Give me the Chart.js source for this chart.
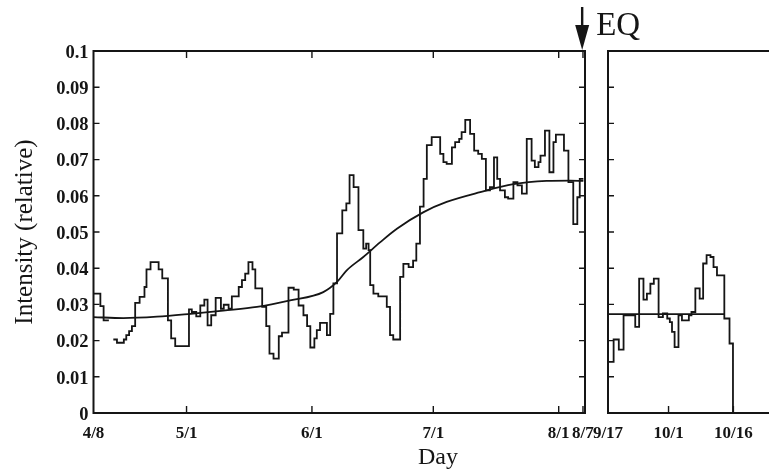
<!DOCTYPE html>
<html>
<head>
<meta charset="utf-8">
<title>Intensity (relative)</title>
<script src="https://cdn.jsdelivr.net/npm/chart.js@4.4.1/dist/chart.umd.min.js"></script>
<style>
  html, body { margin: 0; padding: 0; background: #fff; }
  #wrap { position: relative; width: 769px; height: 475px; overflow: hidden; background: #fff; }
  #wrap canvas { position: absolute; left: 0; top: 0; }
  #rightChart { pointer-events: none; }
</style>
</head>
<body>
<div id="wrap">
  <canvas id="leftChart" width="769" height="475"></canvas>
  <canvas id="rightChart" width="800" height="475"></canvas>
</div>
<script>
// days counted from 4/8 (left panel) and from 9/17 (right panel)
const leftDays = [
  0, 1.7, 2.5, 3.8, 4.2,
  4.9, 5.8, 7.5, 8.1, 8.8, 9.5, 10.3, 11.4, 12.6, 13.1, 14.1, 16.1, 17.0, 18.4, 19.2,
  20.2, 23.6, 24.3, 25.4, 26.4, 27.4, 28.2, 29.1, 30.2, 31.5, 32.2, 33.4, 34.2, 35.9,
  36.7, 37.5, 38.3, 39.3, 40.0, 41.7, 42.7, 43.5, 44.5, 45.8, 46.6, 48.2, 49.5, 50.7,
  51.9, 52.8, 53.6, 54.6, 55.2, 56.0, 57.7, 58.5, 59.3, 60.2, 61.5, 62.5, 63.3, 64.3,
  65.5, 66.7, 67.4, 68.0, 68.4, 69.2, 70.4, 72.5, 73.3, 74.1, 75.8, 76.6, 77.9, 79.0,
  79.8, 80.7, 81.6, 82.4, 83.6, 85.7, 86.5, 87.3, 88.6, 89.4, 90.4, 91.0, 91.9, 93.1,
  94.1, 95.1, 96.0, 97.0, 98.0, 99.0, 99.8, 100.5, 101.7, 102.5, 103.8, 104.8, 105.9,
  107.1, 108.3, 109.1, 110.0, 110.5, 111.6, 112.7, 113.7, 114.3, 116.3, 117.4, 118.6,
  119.6, 120.2, 121.1
];
const leftValues = [
  0.0330, 0.0295, 0.0256, 0.0256, null,
  0.0203, 0.0194, 0.0203, 0.0215, 0.0226, 0.0240, 0.0304, 0.0321, 0.0348, 0.0397, 0.0417, 0.0397, 0.0372, 0.0256, 0.0206,
  0.0185, 0.0286, 0.0279, 0.0267, 0.0297, 0.0313, 0.0242, 0.0270, 0.0318, 0.0288, 0.0299, 0.0288, 0.0322, 0.0348,
  0.0367, 0.0385, 0.0417, 0.0397, 0.0344, 0.0293, 0.0240, 0.0164, 0.0150, 0.0212, 0.0222, 0.0346, 0.0341, 0.0297,
  0.0270, 0.0240, 0.0181, 0.0206, 0.0229, 0.0249, 0.0215, 0.0274, 0.0358, 0.0496, 0.0560, 0.0579, 0.0657, 0.0624,
  0.0505, 0.0454, 0.0468, 0.0450, 0.0353, 0.0330, 0.0322, 0.0293, 0.0215, 0.0203, 0.0376, 0.0412, 0.0403, 0.0421,
  0.0468, 0.0570, 0.0647, 0.0740, 0.0762, 0.0716, 0.0693, 0.0688, 0.0734, 0.0748, 0.0757, 0.0776, 0.0810, 0.0771,
  0.0725, 0.0716, 0.0702, 0.0615, 0.0624, 0.0706, 0.0647, 0.0615, 0.0596, 0.0592, 0.0638, 0.0629, 0.0606,
  0.0757, 0.0697, 0.0679, 0.0693, 0.0711, 0.0780, 0.0665, 0.0748, 0.0769, 0.0725, 0.0638, 0.0522,
  0.0596, 0.0647, 0.0647
];
const fitDays = [0, 7.4, 15.7, 24, 32.1, 40.4, 48.6, 56.8, 60.2, 62.6, 66.7, 70.9, 75, 81.6, 87.3, 95.6, 103.8, 112, 117.8, 121.1];
const fitValues = [0.0265, 0.0262, 0.0266, 0.0274, 0.0283, 0.0293, 0.0311, 0.0334, 0.0362, 0.0394, 0.0431, 0.0472, 0.0509, 0.0555, 0.0583, 0.0610, 0.0632, 0.0641, 0.0642, 0.0641];

const rightDays = [
  0.1, 1.3, 2.5, 3.6, 6.3, 7.2, 8.2, 9.0, 9.8, 10.6, 11.7, 12.7, 13.7, 14.3, 14.8, 15.4,
  16.3, 17.1, 18.7, 19.3, 20.2, 21.2, 22.0, 22.8, 23.7, 24.4, 25.2, 26.9, 28.1, 28.9
];
const rightValues = [
  0.0141, 0.0203, 0.0175, 0.0270, 0.0238, 0.0371, 0.0313, 0.0330, 0.0357, 0.0371, 0.0265, 0.0275, 0.0261, 0.0251, 0.0224, 0.0182,
  0.0270, 0.0256, 0.0270, 0.0279, 0.0344, 0.0316, 0.0413, 0.0436, 0.0431, 0.0403, 0.0380, 0.0261, 0.0192, 0
];
const rightFitDays = [0, 26.9];
const rightFitValues = [0.0273, 0.0273];

const leftTickDays = [0, 23, 54, 84, 115, 121];
const leftTickLabels = ['4/8', '5/1', '6/1', '7/1', '8/1', '8/7'];
const rightTickDays = [0, 14, 29];
const rightTickLabels = ['9/17', '10/1', '10/16'];
const yTickValues = [0, 0.01, 0.02, 0.03, 0.04, 0.05, 0.06, 0.07, 0.08, 0.09, 0.1];
const yTickLabels = ['0', '0.01', '0.02', '0.03', '0.04', '0.05', '0.06', '0.07', '0.08', '0.09', '0.1'];
const eqDay = 120.8;

const SERIF = "'Liberation Serif', 'DejaVu Serif', serif";
const INK = '#151515';

const toPoints = (xs, ys) => xs.map((x, i) => ({ x: x, y: ys[i] }));

// box round the plot area with short inward ticks
const framePlugin = {
  id: 'frame',
  afterDatasetsDraw(chart, args, opts) {
    const { ctx, chartArea: a, scales } = chart;
    const x = scales.x, y = scales.y;
    ctx.save();
    ctx.strokeStyle = INK;
    ctx.lineWidth = 2;
    ctx.strokeRect(a.left, a.top, a.right - a.left, a.bottom - a.top);
    ctx.lineWidth = 1.4;
    ctx.beginPath();
    yTickValues.slice(1, -1).forEach(v => {
      const py = y.getPixelForValue(v);
      ctx.moveTo(a.left, py);
      ctx.lineTo(a.left + 6, py);
      if (opts.rightTicks) {
        ctx.moveTo(a.right, py);
        ctx.lineTo(a.right - 6, py);
      }
    });
    opts.xTicks.forEach(d => {
      const px = x.getPixelForValue(d);
      ctx.moveTo(px, a.bottom);
      ctx.lineTo(px, a.bottom - 7);
      if (opts.topTicks) {
        ctx.moveTo(px, a.top);
        ctx.lineTo(px, a.top + 7);
      }
    });
    ctx.stroke();
    ctx.restore();
  }
};

// earthquake marker and the shared "Day" caption
const notePlugin = {
  id: 'notes',
  afterDraw(chart) {
    const { ctx } = chart;
    const px = chart.scales.x.getPixelForValue(eqDay);
    ctx.save();
    ctx.strokeStyle = INK;
    ctx.fillStyle = INK;
    ctx.lineWidth = 2.4;
    ctx.beginPath();
    ctx.moveTo(px, 7);
    ctx.lineTo(px, 30);
    ctx.stroke();
    ctx.beginPath();
    ctx.moveTo(px - 7, 25);
    ctx.lineTo(px + 7, 25);
    ctx.lineTo(px, 50);
    ctx.closePath();
    ctx.fill();
    ctx.font = '33px ' + SERIF;
    ctx.textAlign = 'left';
    ctx.textBaseline = 'alphabetic';
    ctx.fillText('EQ', px + 14, 35);
    ctx.font = '24px ' + SERIF;
    ctx.textAlign = 'center';
    ctx.fillText('Day', 438, 464);
    ctx.restore();
  }
};

const xTickFont = { family: SERIF, size: 17, weight: 'bold' };
const yTickFont = { family: SERIF, size: 18.5, weight: 'bold' };

new Chart(document.getElementById('leftChart'), {
  type: 'line',
  data: {
    datasets: [
      {
        data: toPoints(leftDays, leftValues),
        stepped: true,
        borderColor: INK,
        borderWidth: 1.8,
        pointRadius: 0,
        spanGaps: false
      },
      {
        data: toPoints(fitDays, fitValues),
        cubicInterpolationMode: 'monotone',
        borderColor: INK,
        borderWidth: 1.8,
        pointRadius: 0
      }
    ]
  },
  options: {
    responsive: false,
    animation: false,
    events: [],
    layout: { padding: { left: 0, top: 51, right: 184, bottom: 0 } },
    plugins: {
      legend: { display: false },
      tooltip: { enabled: false },
      frame: { rightTicks: true, topTicks: true, xTicks: leftTickDays.slice(1) }
    },
    scales: {
      x: {
        type: 'linear',
        min: 0,
        max: 121.5,
        grid: { display: false, drawTicks: false },
        border: { display: false },
        afterBuildTicks: s => { s.ticks = leftTickDays.map(v => ({ value: v })); },
        afterFit: s => { s.height = 62; },
        ticks: {
          autoSkip: false,
          maxRotation: 0,
          padding: 10,
          color: INK,
          font: xTickFont,
          callback: (v, i) => leftTickLabels[i]
        }
      },
      y: {
        min: 0,
        max: 0.1,
        grid: { display: false, drawTicks: false },
        border: { display: false },
        afterBuildTicks: s => { s.ticks = yTickValues.map(v => ({ value: v })); },
        afterFit: s => { s.width = 93.5; },
        ticks: {
          padding: 5,
          labelOffset: 2,
          color: INK,
          font: yTickFont,
          callback: (v, i) => yTickLabels[i]
        },
        title: {
          display: true,
          text: 'Intensity (relative)',
          color: INK,
          font: { family: SERIF, size: 25 },
          padding: { top: 10, bottom: 0 }
        }
      }
    }
  },
  plugins: [framePlugin, notePlugin]
});

new Chart(document.getElementById('rightChart'), {
  type: 'line',
  data: {
    datasets: [
      {
        data: toPoints(rightDays, rightValues),
        stepped: true,
        borderColor: INK,
        borderWidth: 1.8,
        pointRadius: 0
      },
      {
        data: toPoints(rightFitDays, rightFitValues),
        borderColor: INK,
        borderWidth: 1.8,
        pointRadius: 0
      }
    ]
  },
  options: {
    responsive: false,
    animation: false,
    events: [],
    layout: { padding: { left: 608, top: 51, right: 0, bottom: 0 } },
    plugins: {
      legend: { display: false },
      tooltip: { enabled: false },
      frame: { rightTicks: false, topTicks: false, xTicks: rightTickDays.slice(1) }
    },
    scales: {
      x: {
        type: 'linear',
        min: 0,
        max: 44.4,
        grid: { display: false, drawTicks: false },
        border: { display: false },
        afterBuildTicks: s => { s.ticks = rightTickDays.map(v => ({ value: v })); },
        afterFit: s => { s.height = 62; },
        ticks: {
          autoSkip: false,
          maxRotation: 0,
          padding: 10,
          color: INK,
          font: xTickFont,
          callback: (v, i) => rightTickLabels[i]
        }
      },
      y: {
        display: false,
        min: 0,
        max: 0.1
      }
    }
  },
  plugins: [framePlugin]
});
</script>
</body>
</html>
